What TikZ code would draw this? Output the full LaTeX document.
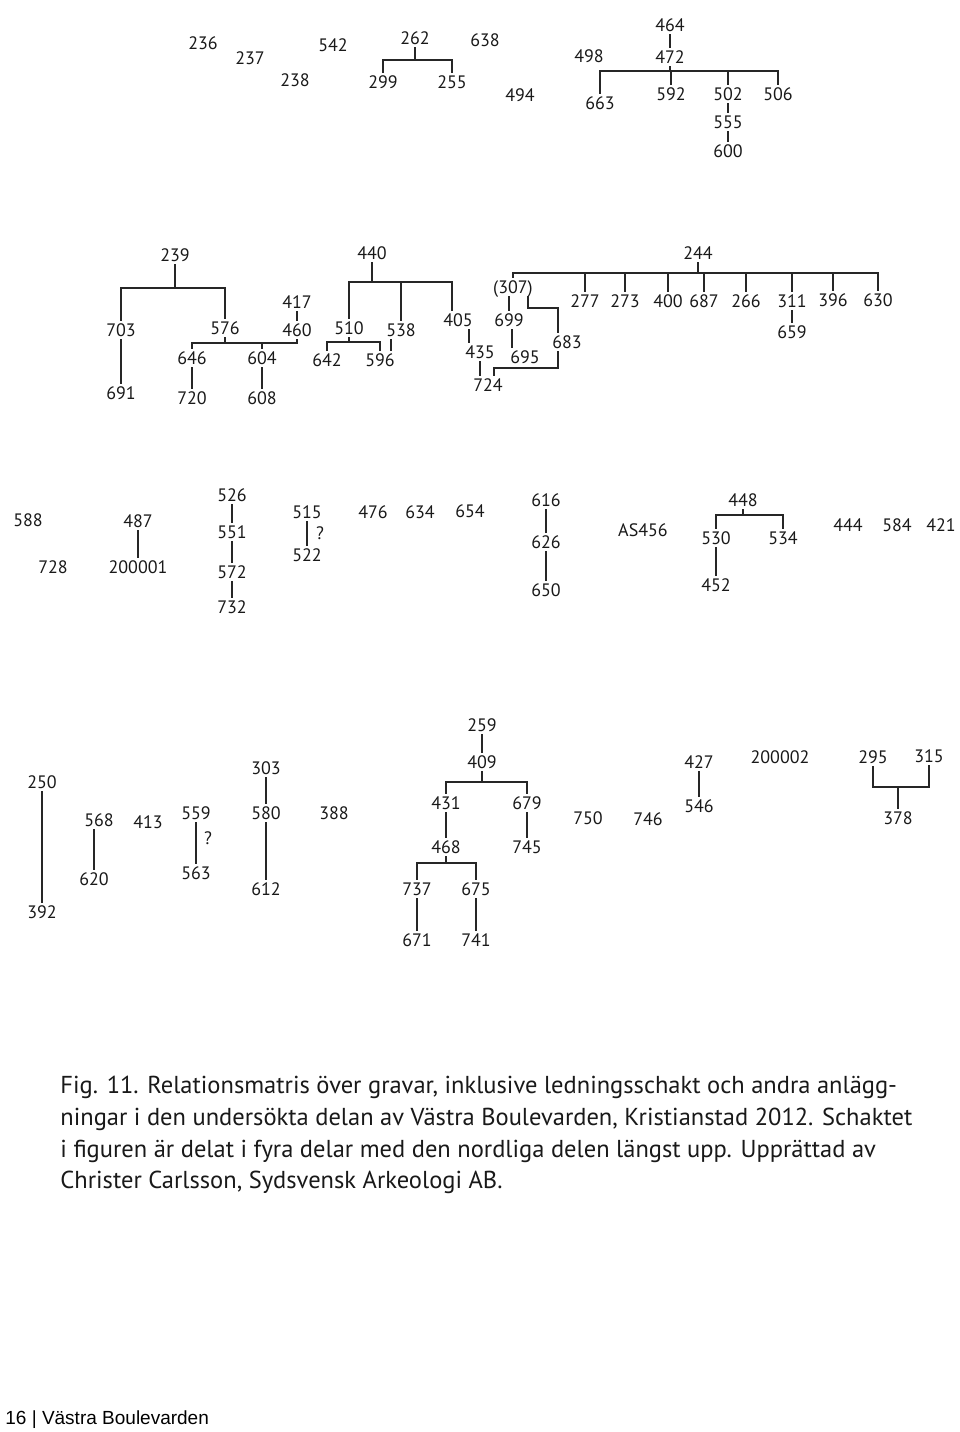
\documentclass[tikz,border=0pt]{standalone}
\usepackage{fontspec}
\setmainfont{PT Sans}
\newfontfamily\footfont{Liberation Sans}

\begin{document}
\begin{tikzpicture}[x=0.5pt,y=-0.5pt,
numnode/.style={inner sep=1.2pt, text height=6.5pt, text depth=0pt, font=\fontsize{9}{10}\selectfont, text=black!90},
relline/.style={draw=black!85, line width=1.15pt},
capline/.style={anchor=base west, inner sep=0pt, font=\fontsize{12.25}{14}\selectfont, text=black!90},
]
\fill[white] (0,0) rectangle (960,1432);
\useasboundingbox (0,0) rectangle (960,1432);

% --- north part
\node[numnode] at (203,43) (n236) {236};
\node[numnode] at (250,58) (n237) {237};
\node[numnode] at (295,80) (n238) {238};
\node[numnode] at (333,45) (n542) {542};
\node[numnode] at (415,38) (n262) {262};
\node[numnode] at (383,82) (n299) {299};
\node[numnode] at (452,82) (n255) {255};
\node[numnode] at (485,40) (n638) {638};
\node[numnode] at (520,95) (n494) {494};
\coordinate (k262) at (415,60);
\draw[relline] (n262) -- (k262);
\draw[relline] (n299.north) -- (n299.north |- k262) -- (n255.north |- k262) -- (n255.north);

\node[numnode] at (589,56) (n498) {498};
\node[numnode] at (670,25) (n464) {464};
\node[numnode] at (670,57) (n472) {472};
\node[numnode] at (600,103) (n663) {663};
\node[numnode] at (671,94) (n592) {592};
\node[numnode] at (728,94) (n502) {502};
\node[numnode] at (778,94) (n506) {506};
\node[numnode] at (728,122) (n555) {555};
\node[numnode] at (728,151) (n600) {600};
\coordinate (k472) at (670,71);
\draw[relline] (n464) -- (n472);
\draw[relline] (n472) -- (k472);
\draw[relline] (n663.north) -- (n663.north |- k472) -- (n506.north |- k472) -- (n506.north);
\draw[relline] (n592.north) -- (n592.north |- k472);
\draw[relline] (n502.north) -- (n502.north |- k472);
\draw[relline] (n502) -- (n555);
\draw[relline] (n555) -- (n600);

% --- second part
\node[numnode] at (175,255) (n239) {239};
\node[numnode] at (121,330) (n703) {703};
\node[numnode] at (225,328) (n576) {576};
\node[numnode] at (121,393) (n691) {691};
\coordinate (k239) at (175,288);
\draw[relline] (n239) -- (k239);
\draw[relline] (n703.north) -- (n703.north |- k239) -- (n576.north |- k239) -- (n576.north);
\draw[relline] (n703) -- (n691);

\node[numnode] at (297,302) (n417) {417};
\node[numnode] at (297,330) (n460) {460};
\node[numnode] at (192,358) (n646) {646};
\node[numnode] at (262,358) (n604) {604};
\node[numnode] at (192,398) (n720) {720};
\node[numnode] at (262,398) (n608) {608};
\coordinate (k460) at (297,343);
\draw[relline] (n417) -- (n460);
\draw[relline] (n646.north) -- (n646.north |- k460) -- (k460) -- (n460.south);
\draw[relline] (n576.south) -- (n576.south |- k460);
\draw[relline] (n604.north) -- (n604.north |- k460);
\draw[relline] (n646) -- (n720);
\draw[relline] (n604) -- (n608);

\node[numnode] at (372,253) (n440) {440};
\node[numnode] at (349,328) (n510) {510};
\node[numnode] at (401,330) (n538) {538};
\node[numnode] at (458,320) (n405) {405};
\node[numnode] at (327,360) (n642) {642};
\node[numnode] at (380,360) (n596) {596};
\coordinate (k440) at (372,282);
\coordinate (k510) at (349,342);
\draw[relline] (n440) -- (k440);
\draw[relline] (n510.north) -- (n510.north |- k440) -- ([xshift=-3pt]n405.north |- k440) -- ([xshift=-3pt]n405.north);
\draw[relline] (n538.north) -- (n538.north |- k440);
\draw[relline] (n510) -- (k510);
\draw[relline] (n642.north) -- (n642.north |- k510) -- (n596.north |- k510) -- (n596.north);
\draw[relline] ([xshift=-5pt]n538.south) -- ([xshift=-5pt]n538.south |- n596.north);

\node[numnode] at (513,287) (n307) {(307)};
\node[numnode] at (509,320) (n699) {699};
\node[numnode] at (525,357) (n695) {695};
\node[numnode] at (480,352) (n435) {435};
\node[numnode] at (488,385) (n724) {724};
\node[numnode] at (567,342) (n683) {683};
\coordinate (k307) at (558,308);
\coordinate (k683) at (558,368);
\draw[relline] (n307.south -| n699) -- (n699);
\draw[relline] ([xshift=1.5pt]n699.south) -- ([xshift=1.5pt]n699.south |- n695.north);
\draw[relline] ([xshift=5.5pt]n405.south) -- ([xshift=5.5pt]n405.south |- n435.north);
\draw[relline] (n435.south) -- (n435.south |- n724.north);
\draw[relline] ([xshift=7.5pt]n307.south) |- (k307) -- (k307 |- n683.north);
\draw[relline] (k683 |- n683.south) -- (k683) -| ([xshift=3pt]n724.north);

\node[numnode] at (698,253) (n244) {244};
\node[numnode] at (585,301) (n277) {277};
\node[numnode] at (625,301) (n273) {273};
\node[numnode] at (668,301) (n400) {400};
\node[numnode] at (704,301) (n687) {687};
\node[numnode] at (746,301) (n266) {266};
\node[numnode] at (792,301) (n311) {311};
\node[numnode] at (833,300) (n396) {396};
\node[numnode] at (878,300) (n630) {630};
\node[numnode] at (792,332) (n659) {659};
\coordinate (k244) at (698,273);
\draw[relline] (n244) -- (k244);
\draw[relline] (n307.north) |- (n630.north |- k244) -- (n630.north);
\foreach \c in {277,273,400,687,266,311,396}
  \draw[relline] (n\c.north) -- (n\c.north |- k244);
\draw[relline] (n311) -- (n659);

% --- third part
\node[numnode] at (28,520) (n588) {588};
\node[numnode] at (53,567) (n728) {728};
\node[numnode] at (138,521) (n487) {487};
\node[numnode] at (138,567) (n200001) {200001};
\draw[relline] (n487) -- (n200001);

\node[numnode] at (232,495) (n526) {526};
\node[numnode] at (232,532) (n551) {551};
\node[numnode] at (232,572) (n572) {572};
\node[numnode] at (232,607) (n732) {732};
\draw[relline] (n526) -- (n551);
\draw[relline] (n551) -- (n572);
\draw[relline] (n572) -- (n732);

\node[numnode] at (307,512) (n515) {515};
\node[numnode] at (307,555) (n522) {522};
\node[numnode] at (320,533) (q522) {?};
\draw[relline] (n515) -- (n522);

\node[numnode] at (373,512) (n476) {476};
\node[numnode] at (420,512) (n634) {634};
\node[numnode] at (470,511) (n654) {654};

\node[numnode] at (546,500) (n616) {616};
\node[numnode] at (546,542) (n626) {626};
\node[numnode] at (546,590) (n650) {650};
\draw[relline] (n616) -- (n626);
\draw[relline] (n626) -- (n650);

\node[numnode] at (643,530) (nAS456) {AS456};

\node[numnode] at (743,500) (n448) {448};
\node[numnode] at (716,538) (n530) {530};
\node[numnode] at (783,538) (n534) {534};
\node[numnode] at (716,585) (n452) {452};
\coordinate (k448) at (743,515);
\draw[relline] (n448) -- (k448);
\draw[relline] (n530.north) |- (n534.north |- k448) -- (n534.north);
\draw[relline] (n530) -- (n452);

\node[numnode] at (848,525) (n444) {444};
\node[numnode] at (897,525) (n584) {584};
\node[numnode] at (941,525) (n421) {421};

% --- southern part
\node[numnode] at (42,782) (n250) {250};
\node[numnode] at (42,912) (n392) {392};
\draw[relline] (n250) -- (n392);

\node[numnode] at (99,820) (n568) {568};
\node[numnode] at (94,879) (n620) {620};
\draw[relline] (n620.north) -- (n620.north |- n568.south);

\node[numnode] at (148,822) (n413) {413};

\node[numnode] at (196,813) (n559) {559};
\node[numnode] at (196,873) (n563) {563};
\node[numnode] at (208,838) (q563) {?};
\draw[relline] (n559) -- (n563);

\node[numnode] at (266,768) (n303) {303};
\node[numnode] at (266,813) (n580) {580};
\node[numnode] at (266,889) (n612) {612};
\draw[relline] (n303) -- (n580);
\draw[relline] (n580) -- (n612);

\node[numnode] at (334,813) (n388) {388};

\node[numnode] at (482,725) (n259) {259};
\node[numnode] at (482,762) (n409) {409};
\node[numnode] at (446,803) (n431) {431};
\node[numnode] at (527,803) (n679) {679};
\node[numnode] at (446,847) (n468) {468};
\node[numnode] at (527,847) (n745) {745};
\node[numnode] at (417,889) (n737) {737};
\node[numnode] at (476,889) (n675) {675};
\node[numnode] at (417,940) (n671) {671};
\node[numnode] at (476,940) (n741) {741};
\coordinate (k409) at (482,782);
\coordinate (k468) at (446,863);
\draw[relline] (n259) -- (n409);
\draw[relline] (n409) -- (k409);
\draw[relline] (n431.north) -- (n431.north |- k409) -- (n679.north |- k409) -- (n679.north);
\draw[relline] (n431) -- (n468);
\draw[relline] (n679) -- (n745);
\draw[relline] (n468) -- (k468);
\draw[relline] (n737.north) -- (n737.north |- k468) -- (n675.north |- k468) -- (n675.north);
\draw[relline] (n737) -- (n671);
\draw[relline] (n675) -- (n741);

\node[numnode] at (588,818) (n750) {750};
\node[numnode] at (648,819) (n746) {746};
\node[numnode] at (699,762) (n427) {427};
\node[numnode] at (699,806) (n546) {546};
\draw[relline] (n427) -- (n546);

\node[numnode] at (780,757) (n200002) {200002};
\node[numnode] at (873,757) (n295) {295};
\node[numnode] at (929,756) (n315) {315};
\node[numnode] at (898,818) (n378) {378};
\coordinate (k378) at (898,787);
\draw[relline] (n295.south) -- (n295.south |- k378) -- (n315.south |- k378) -- (n315.south);
\draw[relline] (k378) -- (n378);

% --- caption
\node[capline] at (60,1093) (cap1) {Fig. 11. Relationsmatris över gravar, inklusive ledningsschakt och andra anlägg-};
\node[capline] at (60,1125) (cap2) {ningar i den undersökta delan av Västra Boulevarden, Kristianstad 2012. Schaktet};
\node[capline] at (60,1157) (cap3) {i figuren är delat i fyra delar med den nordliga delen längst upp. Upprättad av};
\node[capline] at (60,1188) (cap4) {Christer Carlsson, Sydsvensk Arkeologi AB.};

\node[anchor=base west, inner sep=0pt, font=\footfont\fontsize{9.5}{11}\selectfont] at (5,1424) (foot) {16 | Västra Boulevarden};

\end{tikzpicture}
\end{document}
